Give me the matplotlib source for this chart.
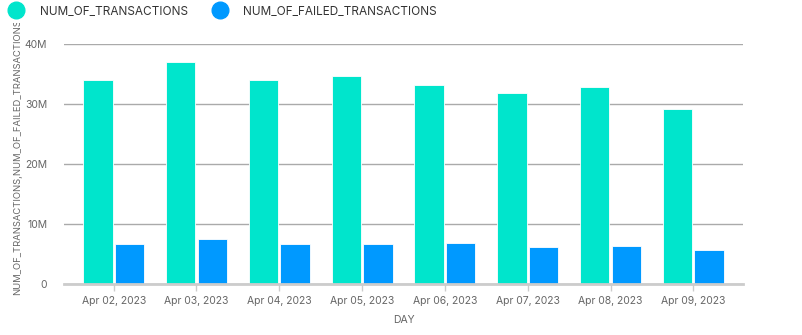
import numpy as np
import matplotlib
matplotlib.use("Agg")
import matplotlib.pyplot as plt
from matplotlib.lines import Line2D
from matplotlib.patches import Rectangle
from matplotlib.ticker import FuncFormatter

plt.rcParams["font.family"] = ["Inter", "DejaVu Sans"]

# datos
dias = ["Apr 02, 2023", "Apr 03, 2023", "Apr 04, 2023", "Apr 05, 2023",
        "Apr 06, 2023", "Apr 07, 2023", "Apr 08, 2023", "Apr 09, 2023"]
transacciones = [34.0e6, 37.0e6, 34.0e6, 34.7e6, 33.2e6, 31.8e6, 32.8e6, 29.2e6]
fallidas = [6.7e6, 7.5e6, 6.7e6, 6.7e6, 6.8e6, 6.2e6, 6.3e6, 5.7e6]

verde = "#00E5CC"
azul = "#0099FF"

fig = plt.figure(figsize=(8.02, 3.35), dpi=100)
ax = fig.add_axes([64 / 802, 1 - 284 / 335, (743 - 64) / 802, (284 - 44) / 335])

x = np.arange(len(dias))
ancho = 0.355
ax.bar(x - 0.19, transacciones, ancho, color=verde, edgecolor="white", linewidth=0.6, zorder=3)
ax.bar(x + 0.19, fallidas, ancho, color=azul, edgecolor="white", linewidth=0.6, zorder=3)

ax.set_xlim(-0.6, len(dias) - 0.4)
ax.set_ylim(0, 40e6)
ax.set_yticks([0, 10e6, 20e6, 30e6, 40e6])
ax.yaxis.set_major_formatter(FuncFormatter(lambda v, p: "0" if v == 0 else f"{int(v / 1e6)}M"))
ax.set_xticks(x)
ax.set_xticklabels(dias)

ax.grid(axis="y", color="#aaaaaa", linewidth=1, zorder=0)
for s in ["top", "right", "left"]:
    ax.spines[s].set_visible(False)
ax.spines["bottom"].set_color("#cccccc")
ax.spines["bottom"].set_linewidth(2)
ax.spines["bottom"].set_zorder(4)

ax.tick_params(axis="y", length=0, pad=12, labelsize=7.5, labelcolor="#666666")
ax.tick_params(axis="x", length=5, width=1, color="#cccccc", pad=4, labelsize=7.5, labelcolor="#666666")

ax.set_xlabel("DAY", fontsize=7.5, color="#666666", labelpad=6)

# etiqueta del eje y recortada arriba como en el original
t = fig.text(17.5 / 802, 1 - 295 / 335, "NUM_OF_TRANSACTIONS,NUM_OF_FAILED_TRANSACTIONS",
             rotation=90, ha="center", va="bottom", fontsize=6.8, color="#666666")
clip = Rectangle((0, 0), 1, 1 - 23 / 335, transform=fig.transFigure)
t.set_clip_path(clip)

# leyenda
handles = [Line2D([], [], marker="o", linestyle="none", markersize=12, color=verde),
           Line2D([], [], marker="o", linestyle="none", markersize=12, color=azul)]
fig.legend(handles, ["NUM_OF_TRANSACTIONS", "NUM_OF_FAILED_TRANSACTIONS"],
           loc="upper left", bbox_to_anchor=(-0.008, 1.015), ncol=2, frameon=False,
           fontsize=8.5, handletextpad=1.0, columnspacing=1.7, labelcolor="#333333")

plt.savefig("out.png", dpi=100)
